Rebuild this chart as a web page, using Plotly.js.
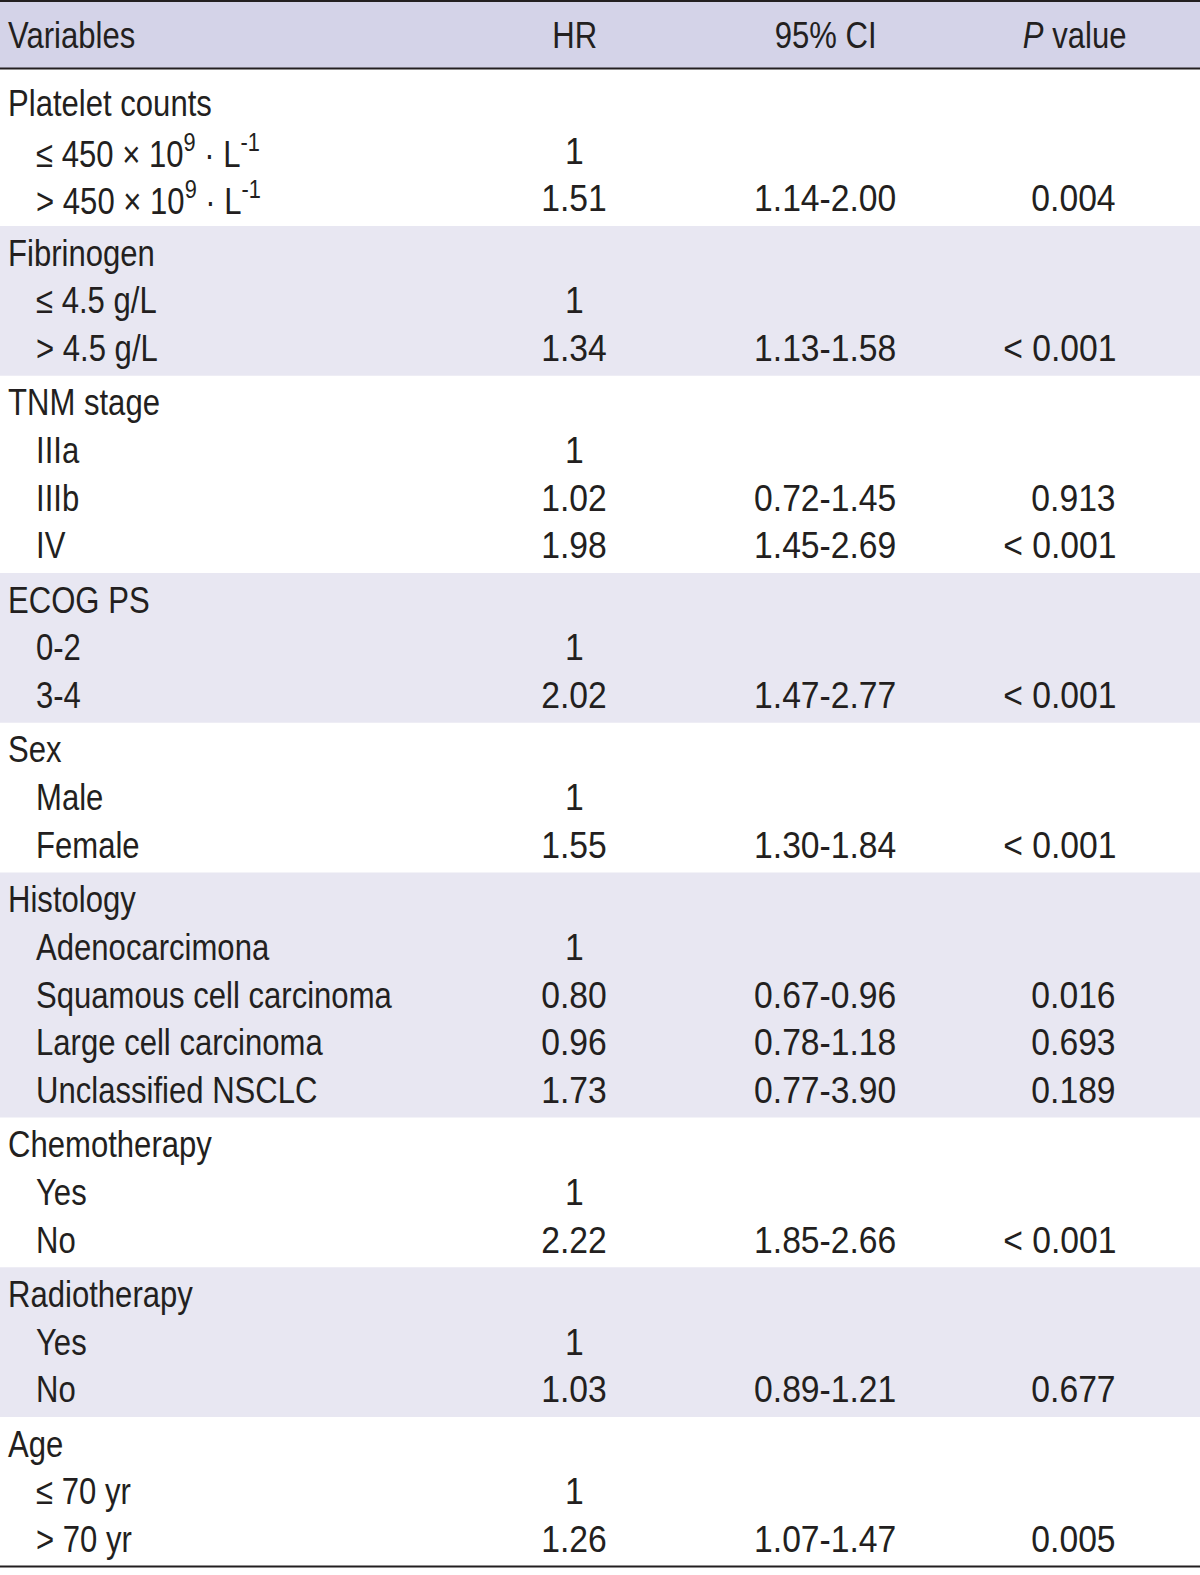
<!DOCTYPE html>
<html>
<head>
<meta charset="utf-8">
<script src="https://cdn.plot.ly/plotly-3.0.1.min.js"></script>
<style>
  body { margin: 0; background: #ffffff; }
  #hrtable { width: 1200px; height: 1575px; }
</style>
</head>
<body>
<div id="hrtable"></div>
<script>
// table content
var headers = ['Variables', 'HR', '95% CI', '<i>P</i> value'];
var groupNames = ['Platelet counts', 'Fibrinogen', 'TNM stage', 'ECOG PS', 'Sex',
    'Histology', 'Chemotherapy', 'Radiotherapy', 'Age'];
var groupSizes = [2, 2, 3, 2, 2, 4, 2, 2, 2];
var levels = [
    '≤ 450 × 10<sup>9</sup> · L<sup>-1</sup>', '&gt; 450 × 10<sup>9</sup> · L<sup>-1</sup>',
    '≤ 4.5 g/L', '&gt; 4.5 g/L',
    'IIIa', 'IIIb', 'IV',
    '0-2', '3-4',
    'Male', 'Female',
    'Adenocarcimona', 'Squamous cell carcinoma', 'Large cell carcinoma', 'Unclassified NSCLC',
    'Yes', 'No',
    'Yes', 'No',
    '≤ 70 yr', '&gt; 70 yr'
];
var hr = ['1', '1.51', '1', '1.34', '1', '1.02', '1.98', '1', '2.02', '1', '1.55',
    '1', '0.80', '0.96', '1.73', '1', '2.22', '1', '1.03', '1', '1.26'];
var ci = ['', '1.14-2.00', '', '1.13-1.58', '', '0.72-1.45', '1.45-2.69', '', '1.47-2.77',
    '', '1.30-1.84', '', '0.67-0.96', '0.78-1.18', '0.77-3.90', '', '1.85-2.66',
    '', '0.89-1.21', '', '1.07-1.47'];
var pval = ['', '0.004', '', '&lt; 0.001', '', '0.913', '&lt; 0.001', '', '&lt; 0.001',
    '', '&lt; 0.001', '', '0.016', '0.693', '0.189', '', '&lt; 0.001',
    '', '0.677', '', '0.005'];

var W = 1200, H = 1575;
var rowPx = 47.7;         // row pitch in pixels
var firstRowPx = 103.4;   // centre of first body row
var gapU = 6.6 / rowPx;   // extra space between groups, in row units
var ink = '#231f20';
var fontFam = 'Liberation Sans, Arial, sans-serif';
var fsize = 37;
// horizontal squeeze so the text looks like a condensed face
var wordSqueeze = 0.84, numSqueeze = 0.91;

function toPaper(px) { return 1 - px / H; }

var annotations = [];
var squeeze = [];
var shapes = [];
var groupTop = [], levelY = [];

function addText(text, x, y, align, sq, yref) {
    annotations.push({
        text: text, x: x, y: y, xref: 'paper', yref: yref || 'y',
        xanchor: align, yanchor: 'middle', showarrow: false,
        font: { family: fontFam, size: fsize, color: ink }
    });
    squeeze.push(sq);
}

// header
var headerY = toPaper(35);
addText(headers[0], 6 / W, headerY, 'left', wordSqueeze, 'paper');
addText(headers[1], 574 / W, headerY, 'center', wordSqueeze, 'paper');
addText(headers[2], 825 / W, headerY, 'center', wordSqueeze, 'paper');
addText(headers[3], 1074 / W, headerY, 'center', wordSqueeze, 'paper');

// body rows
var r = 0, li = 0;
for (var g = 0; g < groupNames.length; g++) {
    var yHead = r + g * gapU;
    groupTop.push(yHead);
    addText(groupNames[g], 6 / W, yHead, 'left', wordSqueeze);
    r++;
    for (var k = 0; k < groupSizes[g]; k++) {
        var y = r + g * gapU;
        addText(levels[li], 34 / W, y, 'left', wordSqueeze);
        addText(hr[li], 574 / W, y, 'center', numSqueeze);
        if (ci[li]) addText(ci[li], 825 / W, y, 'center', numSqueeze);
        if (pval[li]) addText(pval[li], 1118 / W, y, 'right', numSqueeze);
        levelY.push(y);
        li++;
        r++;
    }
}
// last row of each group
var lastOfGroup = [];
var idx = -1;
groupSizes.forEach(function (n) { idx += n; lastOfGroup.push(levelY[idx]); });

var yMin = -firstRowPx / rowPx;
var yMax = (H - firstRowPx) / rowPx;

// shaded bands on alternate groups
for (var g2 = 1; g2 < groupNames.length; g2 += 2) {
    var bandTop = (lastOfGroup[g2 - 1] + groupTop[g2]) / 2;
    var bandBot = g2 + 1 < groupNames.length ? (lastOfGroup[g2] + groupTop[g2 + 1]) / 2 : yMax;
    shapes.push({
        type: 'rect', xref: 'paper', yref: 'y', x0: 0, x1: 1, y0: bandTop, y1: bandBot,
        fillcolor: '#e8e7f2', line: { width: 0 }, layer: 'below'
    });
}

// header band and rules
shapes.push({
    type: 'rect', xref: 'paper', yref: 'paper', x0: 0, x1: 1,
    y0: toPaper(69), y1: toPaper(1), fillcolor: '#d4d3e8', line: { width: 0 }, layer: 'below'
});
[1, 68.5, 1566.5].forEach(function (py) {
    shapes.push({
        type: 'line', xref: 'paper', yref: 'paper', x0: 0, x1: 1,
        y0: toPaper(py), y1: toPaper(py), line: { color: ink, width: 2.2 }
    });
});

var data = [{
    x: [0, 1], y: [0, 1], type: 'scatter', mode: 'markers',
    marker: { opacity: 0 }, hoverinfo: 'skip', showlegend: false
}];

var layout = {
    width: W,
    height: H,
    margin: { l: 0, r: 0, t: 0, b: 0 },
    paper_bgcolor: '#ffffff',
    plot_bgcolor: 'rgba(0,0,0,0)',
    xaxis: { range: [0, 1], visible: false, fixedrange: true },
    yaxis: { range: [yMax, yMin], visible: false, fixedrange: true },
    showlegend: false,
    shapes: shapes,
    annotations: annotations
};

Plotly.newPlot('hrtable', data, layout, { displayModeBar: false, staticPlot: true }).then(function (gd) {
    // condense each text around its own anchor
    var origins = { left: 'left center', center: 'center center', right: 'right center' };
    gd.querySelectorAll('g.annotation').forEach(function (node) {
        var i = +node.getAttribute('data-index');
        var t = node.querySelector('text.annotation-text');
        if (!annotations[i] || !t) return;
        t.style.transformBox = 'fill-box';
        t.style.transformOrigin = origins[annotations[i].xanchor];
        t.style.transform = 'scaleX(' + squeeze[i] + ')';
    });
});
</script>
</body>
</html>
